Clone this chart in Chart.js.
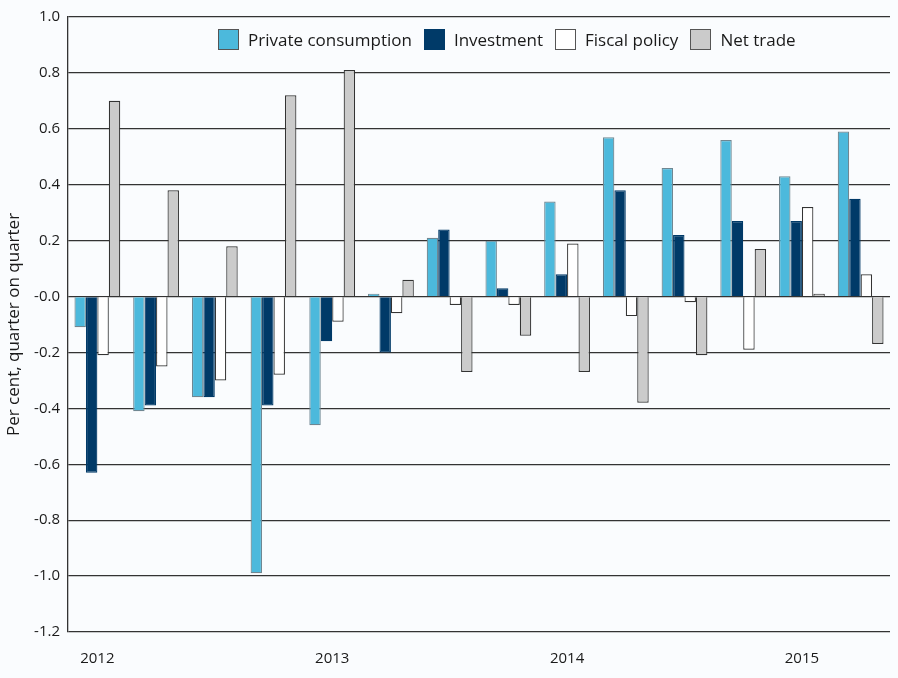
<!DOCTYPE html>
<html>
<head>
<meta charset="utf-8">
<script src="https://cdn.jsdelivr.net/npm/chart.js@4.4.1/dist/chart.umd.min.js"></script>
<style>
  html, body { margin: 0; padding: 0; background: #fafcfe; }
  #wrap { position: relative; width: 898px; height: 678px; }
  #legend {
    position: absolute; top: 28px; left: 218px;
    display: flex; align-items: center;
    font-family: "Open Sans", sans-serif; font-size: 17px; color: #1a1a1a;
  }
  #legend .item { display: flex; align-items: center; margin-right: 12px; }
  #legend .box { width: 21px; height: 21px; box-sizing: border-box; margin-right: 9px; }
</style>
</head>
<body>
<div id="wrap">
  <canvas id="chart" width="898" height="678"></canvas>
  <div id="legend"></div>
</div>
<script>
// 2012Q1 .. 2015Q2
const quarters = ['2012', '', '', '', '2013', '', '', '', '2014', '', '', '', '2015', ''];
const privateConsumption = [-0.11, -0.41, -0.36, -0.99, -0.46, 0.01, 0.21, 0.20, 0.34, 0.57, 0.46, 0.56, 0.43, 0.59];
const investment         = [-0.63, -0.39, -0.36, -0.39, -0.16, -0.20, 0.24, 0.03, 0.08, 0.38, 0.22, 0.27, 0.27, 0.35];
const fiscalPolicy       = [-0.21, -0.25, -0.30, -0.28, -0.09, -0.06, -0.03, -0.03, 0.19, -0.07, -0.02, -0.19, 0.32, 0.08];
const netTrade           = [0.70, 0.38, 0.18, 0.72, 0.81, 0.06, -0.27, -0.14, -0.27, -0.38, -0.21, 0.17, 0.01, -0.17];
const yTickLabels = ['1.0', '0.8', '0.6', '0.4', '0.2', '-0.0', '-0.2', '-0.4', '-0.6', '-0.8', '-1.0', '-1.2'];

const series = [
  { label: 'Private consumption', data: privateConsumption, bg: '#4cb9dc', border: '#6f8792' },
  { label: 'Investment',          data: investment,         bg: '#003a68', border: '#003a68' },
  { label: 'Fiscal policy',       data: fiscalPolicy,       bg: '#ffffff', border: '#333333' },
  { label: 'Net trade',           data: netTrade,           bg: '#cbcbcb', border: '#333333' }
];

// HTML legend inside the plot
const legend = document.getElementById('legend');
series.forEach(s => {
  const item = document.createElement('div');
  item.className = 'item';
  const box = document.createElement('span');
  box.className = 'box';
  box.style.background = s.bg;
  box.style.border = '1.5px solid ' + (s.label === 'Investment' ? '#003a68' : '#555');
  const txt = document.createElement('span');
  txt.textContent = s.label;
  item.appendChild(box);
  item.appendChild(txt);
  legend.appendChild(item);
});

const ctx = document.getElementById('chart').getContext('2d');
new Chart(ctx, {
  type: 'bar',
  data: {
    labels: quarters,
    datasets: series.map(s => ({
      label: s.label,
      data: s.data,
      backgroundColor: s.bg,
      borderColor: s.border,
      borderWidth: 1.2,
      barPercentage: 1.0,
      categoryPercentage: 0.78
    }))
  },
  options: {
    responsive: false,
    animation: false,
    layout: { padding: { top: 14, right: 8, bottom: 10, left: 4 } },
    plugins: {
      legend: { display: false },
      tooltip: { enabled: false }
    },
    scales: {
      x: {
        afterFit: scale => { scale.height = 36; },
        grid: { display: false },
        border: { display: false },
        ticks: {
          autoSkip: false,
          maxRotation: 0,
          padding: 10,
          color: '#1a1a1a',
          font: { family: '"Open Sans", sans-serif', size: 15, weight: '500' }
        }
      },
      y: {
        min: -1.2,
        max: 1.0,
        afterFit: scale => { scale.width = 64; },
        ticks: {
          stepSize: 0.2,
          padding: 8,
          color: '#1a1a1a',
          font: { family: '"Open Sans", sans-serif', size: 15, weight: '500' },
          callback: value => yTickLabels[Math.round((1.0 - value) / 0.2)]
        },
        grid: { color: '#333333', lineWidth: 1.3, drawTicks: false },
        border: { display: true, color: '#333333', width: 1.3 },
        title: {
          display: true,
          text: 'Per cent, quarter on quarter',
          color: '#1a1a1a',
          padding: { top: 0, bottom: 2 },
          font: { family: '"Open Sans", sans-serif', size: 17 }
        }
      }
    }
  }
});
</script>
</body>
</html>
